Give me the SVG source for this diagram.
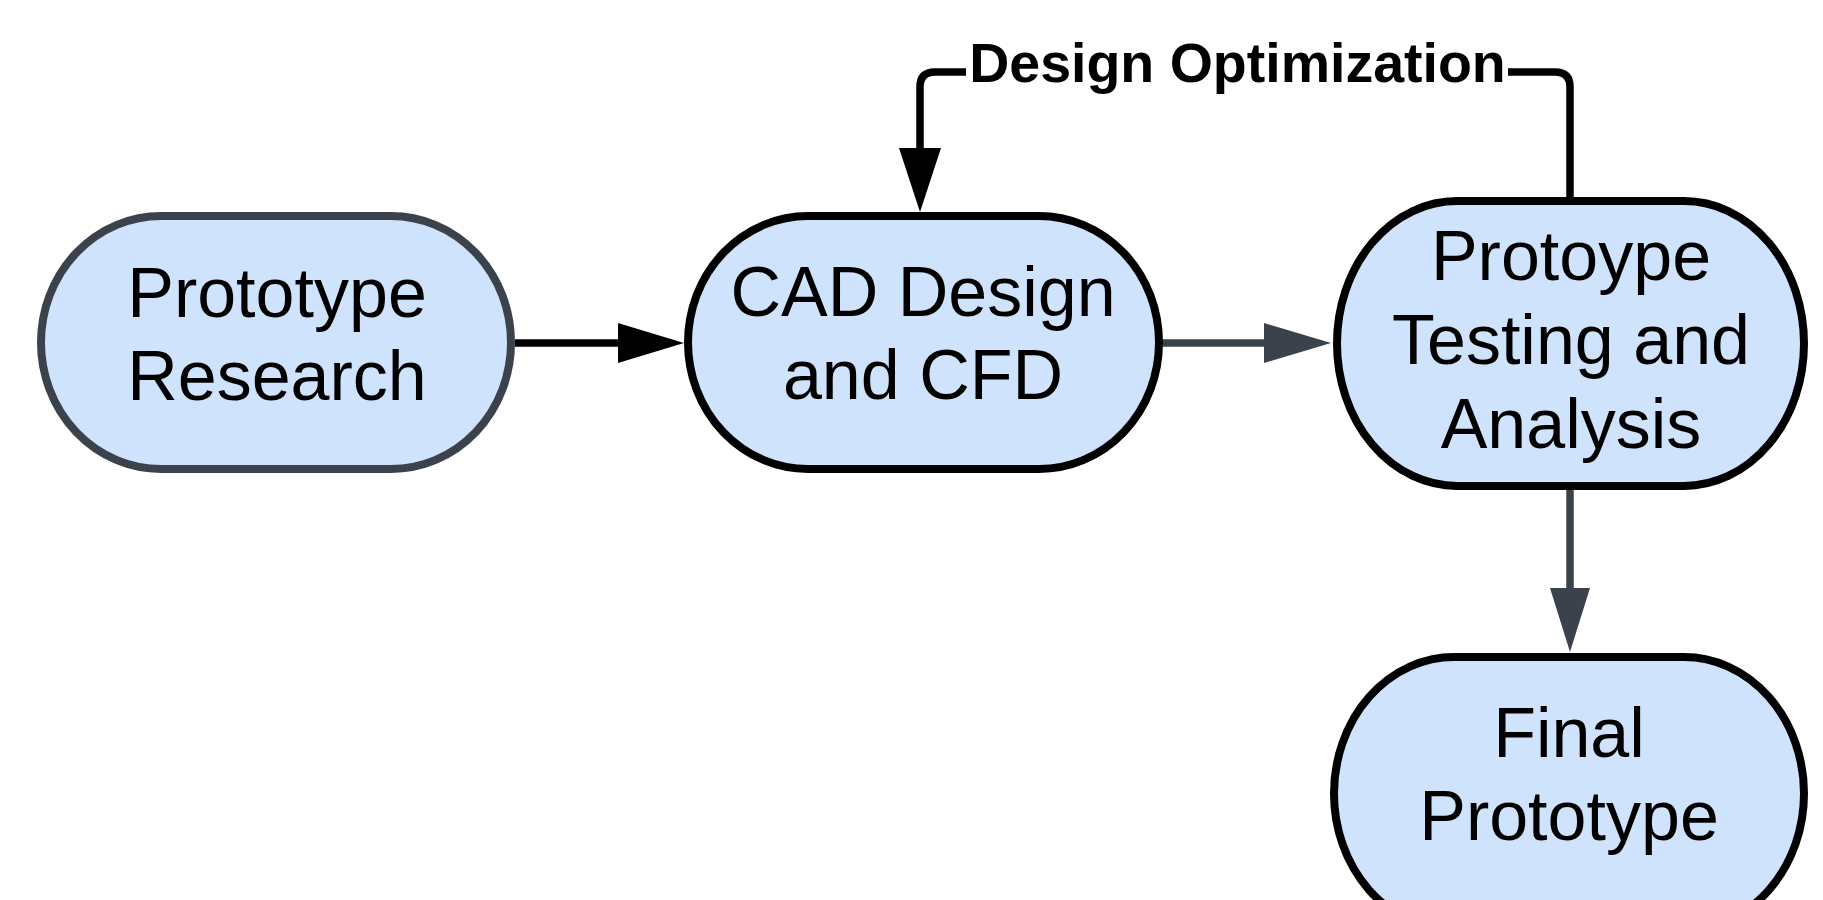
<svg xmlns="http://www.w3.org/2000/svg" width="1823" height="900" viewBox="0 0 1823 900">
  <defs>
    <style>
      .node { fill: #cfe3fd; stroke-width: 8; }
      .dark { stroke: #000000; }
      .gray { stroke: #3b424c; }
      .label { font-family: "Liberation Sans", Arial, sans-serif; font-size: 70px; fill: #000000; text-anchor: middle; }
      .elabel { font-family: "Liberation Sans", Arial, sans-serif; font-size: 55.5px; font-weight: bold; fill: #000000; text-anchor: middle; }
      .conn { fill: none; stroke-width: 7.5; }
    </style>
  </defs>
  <rect width="1823" height="900" fill="#ffffff"/>

  <g id="connectors">
    <!-- Prototype Research -> CAD Design -->
    <line class="conn" x1="515" y1="343" x2="620" y2="343" stroke="#000000"/>
    <polygon points="618,323 684,343 618,363" fill="#000000"/>
    <!-- CAD Design -> Testing -->
    <line class="conn" x1="1163" y1="343" x2="1266" y2="343" stroke="#3b424c"/>
    <polygon points="1264,323 1331,343 1264,363" fill="#3b424c"/>
    <!-- Testing -> Final -->
    <line class="conn" x1="1570" y1="490" x2="1570" y2="590" stroke="#3b424c"/>
    <polygon points="1550,588 1590,588 1570,652" fill="#3b424c"/>
    <!-- Design Optimization loop -->
    <path class="conn" d="M1570,197 L1570,87 Q1570,72 1555,72 L1508,72 M966,72 L935,72 Q920,72 920,87 L920,150" stroke="#000000"/>
    <polygon points="899,148 941,148 920,212" fill="#000000"/>
    <text class="elabel" x="1237.5" y="82">Design Optimization</text>
  </g>

  <g id="node-prototype-research">
    <rect class="node gray" x="41" y="216" width="470" height="253" rx="120" ry="126.5"/>
    <text class="label" x="277" y="317">Prototype</text>
    <text class="label" x="277" y="400">Research</text>
  </g>

  <g id="node-cad-design">
    <rect class="node dark" x="688" y="216" width="471" height="253" rx="120" ry="126.5"/>
    <text class="label" x="923" y="316">CAD Design</text>
    <text class="label" x="923" y="399">and CFD</text>
  </g>

  <g id="node-testing">
    <rect class="node dark" x="1337" y="201" width="467" height="285" rx="120" ry="142.5"/>
    <text class="label" x="1571" y="280">Protoype</text>
    <text class="label" x="1571" y="364">Testing and</text>
    <text class="label" x="1571" y="448">Analysis</text>
  </g>

  <g id="node-final">
    <rect class="node dark" x="1334" y="657" width="470" height="273" rx="120" ry="136.5"/>
    <text class="label" x="1569" y="757">Final</text>
    <text class="label" x="1569" y="840">Prototype</text>
  </g>
</svg>
